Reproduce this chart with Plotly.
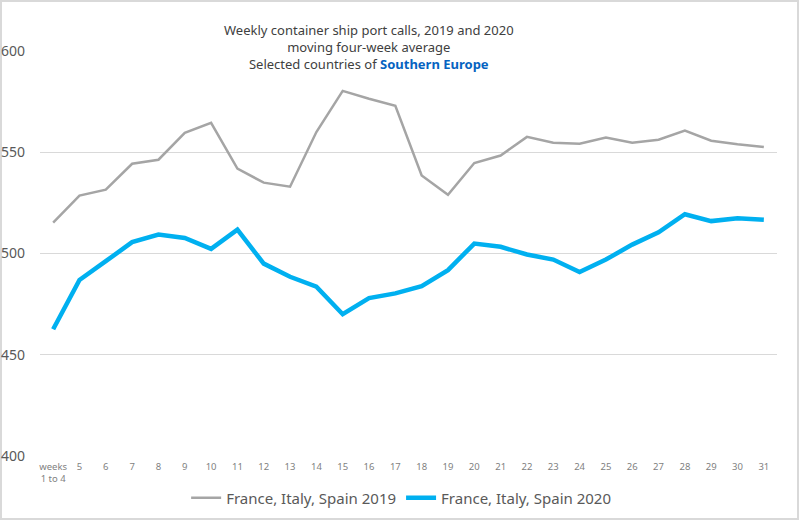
import plotly.graph_objects as go

weeks = ["weeks<br>1 to 4"] + [str(w) for w in range(5, 32)]
calls_2019 = [515.3, 528.6, 531.5, 544.3, 546.3, 559.6, 564.5, 541.9, 535.0, 533.0,
              560.0, 580.3, 576.4, 572.9, 538.5, 529.0, 544.7, 548.4, 557.6, 554.7,
              554.2, 557.3, 554.7, 556.2, 560.7, 555.7, 554.0, 552.6]
calls_2020 = [462.6, 486.9, 496.2, 505.6, 509.4, 507.7, 502.3, 511.8, 495.0, 488.5,
              483.6, 470.0, 478.0, 480.3, 483.9, 491.8, 504.9, 503.3, 499.5, 497.0,
              490.8, 497.0, 504.4, 510.5, 519.4, 516.0, 517.4, 516.7]
y_ticks = [400, 450, 500, 550, 600]

fig = go.Figure()
fig.add_trace(go.Scatter(x=weeks, y=calls_2019, mode="lines",
                         name="France, Italy, Spain 2019",
                         line=dict(color="#A5A5A5", width=2.5)))
fig.add_trace(go.Scatter(x=weeks, y=calls_2020, mode="lines",
                         name="France, Italy, Spain 2020",
                         line=dict(color="#00B0F0", width=4.5)))

FONT = "Noto Sans"
fig.update_layout(
    width=800, height=521,
    margin=dict(l=40, r=23, t=51, b=65, autoexpand=False),
    paper_bgcolor="white", plot_bgcolor="white",
    font=dict(family=FONT, color="#595959"),
    showlegend=True,
    legend=dict(orientation="h", x=0.49, xanchor="center", y=-0.104, yanchor="middle",
                font=dict(size=15, color="#595959"), itemwidth=30,
                traceorder="normal"),
    xaxis=dict(type="category", range=[-0.5, 27.5], showgrid=False,
               showline=False, ticks="", tickfont=dict(size=9.5, color="#7F7F7F"),
               tickangle=0, fixedrange=True, automargin=False, ticklabelstandoff=3),
    yaxis=dict(range=[400, 600], tickvals=y_ticks, showgrid=True,
               gridcolor="#D9D9D9", gridwidth=1, zeroline=False, showline=False,
               tickfont=dict(size=14, color="#595959"), ticklabelstandoff=14,
               fixedrange=True, automargin=False),
)

fig.add_annotation(
    xref="paper", yref="paper", x=0.447, y=1.078, xanchor="center", yanchor="top",
    showarrow=False, align="center", bgcolor="white",
    text=("Weekly container ship port calls, 2019 and 2020<br>"
          "moving four-week average<br>"
          "Selected countries of <b><span style='color:#0563C1'>Southern Europe</span></b>"),
    font=dict(family=FONT, size=13, color="#404040"),
)

# outer light border of the chart
fig.add_shape(type="rect", xref="paper", yref="paper",
              x0=-39/737, x1=(798 - 40)/737, y0=-63/405, y1=1 + 50/405,
              line=dict(color="#D9D9D9", width=2), fillcolor="rgba(0,0,0,0)",
              layer="below")

# remove the default 8px page margin so the 800x521 figure fills the window
fig.write_html("out.html", config={"displayModeBar": False},
               post_script="document.body.style.margin='0';document.body.style.overflow='hidden';")
